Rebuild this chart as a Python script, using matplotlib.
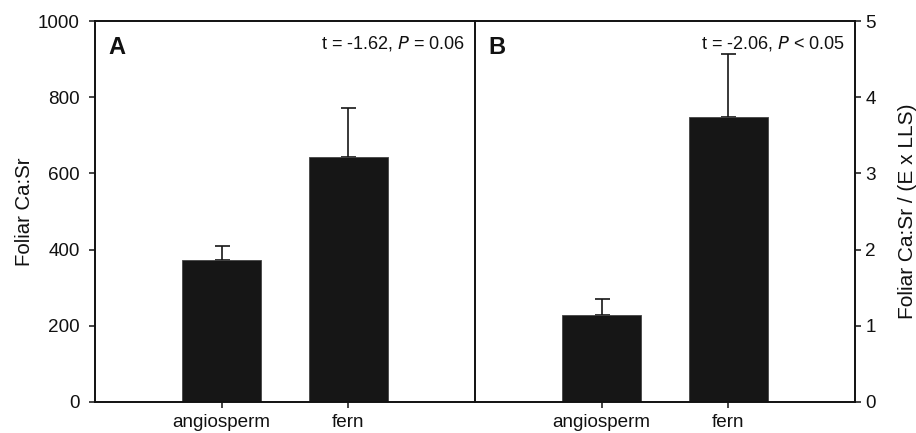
import matplotlib
matplotlib.use("Agg")
import matplotlib.pyplot as plt

plt.rcParams['font.family'] = ['Liberation Sans', 'DejaVu Sans']

categories = ["angiosperm", "fern"]
ratio_vals = [373, 642]
ratio_err = [36, 130]
norm_vals = [1.14, 3.74]
norm_err = [0.21, 0.83]
yticks_a = [0, 200, 400, 600, 800, 1000]
yticks_b = [0, 1, 2, 3, 4, 5]
stat_a = r"t = -1.62, $\it{P}$ = 0.06"
stat_b = r"t = -2.06, $\it{P}$ < 0.05"

W, H = 916, 433
fig = plt.figure(figsize=(W / 100, H / 100), dpi=100)

def px_axes(x0, y0, x1, y1):
    return fig.add_axes([x0 / W, 1 - y1 / H, (x1 - x0) / W, (y1 - y0) / H])

axA = px_axes(95, 21, 475, 402)
axB = px_axes(475, 21, 855, 402)

bar_color = "#161616"
pos = list(range(len(categories)))

for ax, vals, errs, yt, lab, stat in [
    (axA, ratio_vals, ratio_err, yticks_a, "A", stat_a),
    (axB, norm_vals, norm_err, yticks_b, "B", stat_b),
]:
    ax.patch.set_visible(False)
    ax.bar(pos, vals, width=0.62, color=bar_color, edgecolor="#444444", linewidth=0.6, zorder=2)
    ax.errorbar(pos, vals, yerr=[[0] * len(errs), errs], fmt="none", ecolor=bar_color,
                elinewidth=1.2, capsize=5.4, capthick=1.2, zorder=1)
    ax.set_xlim(-1, 2)
    ax.set_ylim(yt[0], yt[-1])
    ax.set_yticks(yt)
    ax.set_xticks(pos)
    ax.set_xticklabels(categories)
    ax.tick_params(axis="both", direction="out", length=4.5, width=1.1, labelsize=13.6,
                   colors="#111111", pad=3)
    ax.tick_params(axis="x", pad=4)
    for s in ax.spines.values():
        s.set_linewidth(1.4)
        s.set_color("#111111")
    ax.text(0.035, 0.93, lab, transform=ax.transAxes, fontsize=17, fontweight="bold",
            ha="left", va="center", color="#111111")
    ax.text(0.975, 0.94, stat, transform=ax.transAxes, fontsize=13, ha="right",
            va="center", color="#111111")

axA.tick_params(axis="y", pad=6.5)
axA.set_ylabel("Foliar Ca:Sr", fontsize=14.7, color="#111111", labelpad=3)
axB.yaxis.tick_right()
axB.yaxis.set_label_position("right")
axB.spines["left"].set_visible(False)
axB.set_ylabel("Foliar Ca:Sr / (E x LLS)", fontsize=15, color="#111111", labelpad=16)

fig.savefig("out.png", dpi=100)
